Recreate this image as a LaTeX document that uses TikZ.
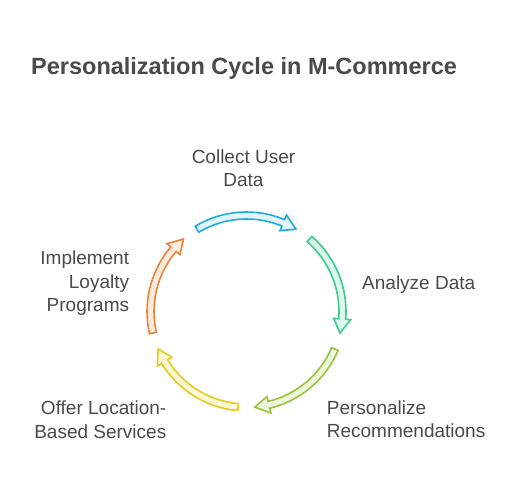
\documentclass[tikz,border=0pt]{standalone}
\usepackage{fontspec}
\setmainfont{Liberation Sans}
\definecolor{txt}{HTML}{4A4A4A}
\definecolor{bluS}{HTML}{22ABDD}\definecolor{bluF}{HTML}{E2F5FC}
\definecolor{grnS}{HTML}{3DCB8C}\definecolor{grnF}{HTML}{DFF8EE}
\definecolor{limS}{HTML}{97C43C}\definecolor{limF}{HTML}{EEF7DB}
\definecolor{yelS}{HTML}{E4CB1F}\definecolor{yelF}{HTML}{FDF9D6}
\definecolor{orgS}{HTML}{E8853B}\definecolor{orgF}{HTML}{FCEADD}
\newcommand\cycarrow[3]{%
  \pgfmathsetmacro\aS{#1+31}\pgfmathsetmacro\aT{#1-31}\pgfmathsetmacro\aB{#1-31+8.5}%
  \draw[draw=#2, fill=#3, line width=1.6pt, line join=miter]
    (\aS:99.5pt) arc[start angle=\aS, end angle=\aB, radius=99.5pt]
    -- (\aB:104.5pt) -- (\aT:96pt) -- (\aB:87.5pt) -- (\aB:92.5pt)
    arc[start angle=\aB, end angle=\aS, radius=92.5pt] -- cycle;}
\tikzset{
  lbl/.style={text=txt, font=\fontsize{19}{23.5}\selectfont, inner sep=0pt},
  ttl/.style={text=txt, font=\fontsize{23.5}{28}\selectfont\bfseries, inner sep=0pt}
}
\begin{document}
\begin{tikzpicture}[x=1pt,y=1pt]
\useasboundingbox[fill=white] (0,0) rectangle (528,492);
\node[ttl, anchor=base west] (title) at (31,417) {Personalization Cycle in M-Commerce};
\begin{scope}[shift={(246.5,180.5)}]
  \cycarrow{90}{bluS}{bluF}
  \cycarrow{18}{grnS}{grnF}
  \cycarrow{-54}{limS}{limF}
  \cycarrow{-126}{yelS}{yelF}
  \cycarrow{162}{orgS}{orgF}
\end{scope}
\node[lbl, anchor=base, align=center] (collect) at (243.5,305.3) {Collect User\\Data};
\node[lbl, anchor=base west] (analyze) at (362,202.7) {Analyze Data};
\node[lbl, anchor=base west, align=left] (person) at (326.7,54) {Personalize\\Recommendations};
\node[lbl, anchor=base east, align=right] (offer) at (166.5,53.5) {Offer Location-\\Based Services};
\node[lbl, anchor=base east, align=right] (loyal) at (129.3,180.3) {Implement\\Loyalty\\Programs};
\end{tikzpicture}
\end{document}
